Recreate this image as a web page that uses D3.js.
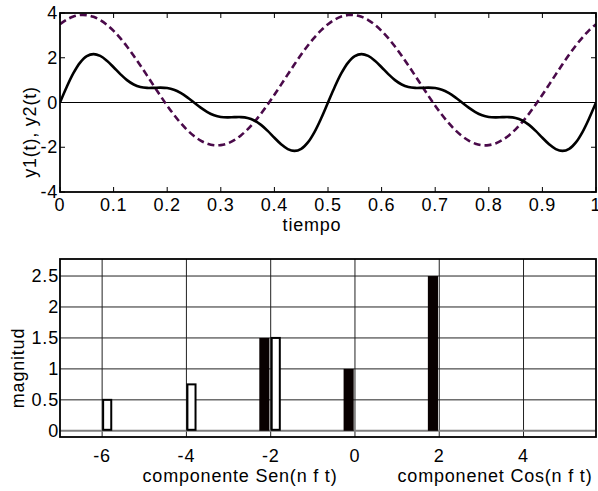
<!DOCTYPE html>
<html>
<head>
<meta charset="utf-8">
<script src="https://cdn.jsdelivr.net/npm/d3@7"></script>
<style>
  body { margin: 0; background: #fff; }
  svg { display: block; font-family: "Liberation Sans", Arial, sans-serif; }
  text { font-size: 18px; letter-spacing: 0.8px; fill: #000; }
</style>
</head>
<body>
<svg id="chart"></svg>
<script>
const width = 598, height = 491;

// top plot data: t, y1(t), y2(t)
const tiempo = [0, 0.0125, 0.025, 0.0375, 0.05, 0.0625, 0.075, 0.0875, 0.1, 0.1125,
  0.125, 0.1375, 0.15, 0.1625, 0.175, 0.1875, 0.2, 0.2125, 0.225, 0.2375,
  0.25, 0.2625, 0.275, 0.2875, 0.3, 0.3125, 0.325, 0.3375, 0.35, 0.3625,
  0.375, 0.3875, 0.4, 0.4125, 0.425, 0.4375, 0.45, 0.4625, 0.475, 0.4875,
  0.5, 0.5125, 0.525, 0.5375, 0.55, 0.5625, 0.575, 0.5875, 0.6, 0.6125,
  0.625, 0.6375, 0.65, 0.6625, 0.675, 0.6875, 0.7, 0.7125, 0.725, 0.7375,
  0.75, 0.7625, 0.775, 0.7875, 0.8, 0.8125, 0.825, 0.8375, 0.85, 0.8625,
  0.875, 0.8875, 0.9, 0.9125, 0.925, 0.9375, 0.95, 0.9625, 0.975, 0.9875, 1];

const y1 = [0, 0.693, 1.309, 1.782, 2.071, 2.164, 2.081, 1.865, 1.574, 1.268,
  1.000, 0.804, 0.692, 0.652, 0.655, 0.664, 0.644, 0.568, 0.427, 0.230,
  0, -0.230, -0.427, -0.568, -0.644, -0.664, -0.655, -0.652, -0.692, -0.804,
  -1.000, -1.268, -1.574, -1.865, -2.081, -2.164, -2.071, -1.782, -1.309, -0.693,
  0, 0.693, 1.309, 1.782, 2.071, 2.164, 2.081, 1.865, 1.574, 1.268,
  1.000, 0.804, 0.692, 0.652, 0.655, 0.664, 0.644, 0.568, 0.427, 0.230,
  0, -0.230, -0.427, -0.568, -0.644, -0.664, -0.655, -0.652, -0.692, -0.804,
  -1.000, -1.268, -1.574, -1.865, -2.081, -2.164, -2.071, -1.782, -1.309, -0.693, 0];

const y2 = [3.500, 3.704, 3.841, 3.909, 3.904, 3.829, 3.683, 3.472, 3.199, 2.873,
  2.500, 2.091, 1.654, 1.202, 0.744, 0.293, -0.141, -0.547, -0.914, -1.235,
  -1.500, -1.704, -1.841, -1.909, -1.904, -1.829, -1.683, -1.472, -1.199, -0.873,
  -0.500, -0.091, 0.346, 0.799, 1.256, 1.707, 2.141, 2.547, 2.914, 3.235,
  3.500, 3.704, 3.841, 3.909, 3.904, 3.829, 3.683, 3.472, 3.199, 2.873,
  2.500, 2.091, 1.654, 1.202, 0.744, 0.293, -0.141, -0.547, -0.914, -1.235,
  -1.500, -1.704, -1.841, -1.909, -1.904, -1.829, -1.683, -1.472, -1.199, -0.873,
  -0.500, -0.091, 0.346, 0.799, 1.256, 1.707, 2.141, 2.547, 2.914, 3.235, 3.500];

const topXTicks = [0, 0.1, 0.2, 0.3, 0.4, 0.5, 0.6, 0.7, 0.8, 0.9, 1];
const topYTicks = [-4, -2, 0, 2, 4];

// bottom plot data: spectrum
const senX = [-6, -4, -2];          // componente Sen
const senMag = [0.5, 0.75, 1.5];
const cosX = [-2, 0, 2];            // componente Cos
const cosMag = [1.5, 1, 2.5];
const botXTicks = [-6, -4, -2, 0, 2, 4];
const botYTicks = [0, 0.5, 1, 1.5, 2, 2.5];

const svg = d3.select("#chart")
    .attr("width", width)
    .attr("height", height);

const fmt = d => String(d);

// ---------- top plot ----------
const box1 = { left: 60, right: 596, top: 13, bottom: 192 };
const tx = d3.scaleLinear().domain([0, 1]).range([box1.left, box1.right]);
const ty = d3.scaleLinear().domain([-4, 4]).range([box1.bottom, box1.top]);

const g1 = svg.append("g");

g1.append("defs").append("clipPath").attr("id", "clip1")
    .append("rect")
    .attr("x", box1.left).attr("y", box1.top)
    .attr("width", box1.right - box1.left).attr("height", box1.bottom - box1.top);

// zero line
g1.append("line")
    .attr("x1", box1.left).attr("x2", box1.right)
    .attr("y1", ty(0)).attr("y2", ty(0))
    .attr("stroke", "#000").attr("stroke-width", 1);

const line = d3.line()
    .x((d, i) => tx(tiempo[i]))
    .y(d => ty(d))
    .curve(d3.curveCatmullRom);

const lines = g1.append("g").attr("clip-path", "url(#clip1)");

lines.append("path")
    .attr("d", line(y2))
    .attr("fill", "none")
    .attr("stroke", "#4a0a4a")
    .attr("stroke-width", 2.6)
    .attr("stroke-dasharray", "7,4");

lines.append("path")
    .attr("d", line(y1))
    .attr("fill", "none")
    .attr("stroke", "#000")
    .attr("stroke-width", 2.6);

// inner ticks
const tk = 5;
topXTicks.forEach(d => {
    g1.append("line").attr("x1", tx(d)).attr("x2", tx(d))
        .attr("y1", box1.bottom).attr("y2", box1.bottom - tk).attr("stroke", "#000");
    g1.append("line").attr("x1", tx(d)).attr("x2", tx(d))
        .attr("y1", box1.top).attr("y2", box1.top + tk).attr("stroke", "#000");
});
topYTicks.forEach(d => {
    g1.append("line").attr("x1", box1.left).attr("x2", box1.left + tk)
        .attr("y1", ty(d)).attr("y2", ty(d)).attr("stroke", "#000");
    g1.append("line").attr("x1", box1.right).attr("x2", box1.right - tk)
        .attr("y1", ty(d)).attr("y2", ty(d)).attr("stroke", "#000");
});

g1.append("rect")
    .attr("x", box1.left).attr("y", box1.top)
    .attr("width", box1.right - box1.left).attr("height", box1.bottom - box1.top)
    .attr("fill", "none").attr("stroke", "#000").attr("stroke-width", 1.8);

g1.selectAll(".xt").data(topXTicks).enter().append("text")
    .attr("x", d => tx(d)).attr("y", 211)
    .attr("text-anchor", "middle")
    .text(fmt);

g1.selectAll(".yt").data(topYTicks).enter().append("text")
    .attr("x", 58).attr("y", d => ty(d) + 6)
    .attr("text-anchor", "end")
    .text(fmt);

g1.append("text")
    .attr("x", 312).attr("y", 231)
    .attr("text-anchor", "middle")
    .text("tiempo");

g1.append("text")
    .attr("transform", "translate(36,132) rotate(-90)")
    .attr("text-anchor", "middle")
    .text("y1(t), y2(t)");

// ---------- bottom plot ----------
const box2 = { left: 60, right: 596, top: 259, bottom: 437 };
const bx = d3.scaleLinear().domain([-7, 5.72]).range([box2.left, box2.right]);
const by = d3.scaleLinear().domain([-0.1, 2.775]).range([box2.bottom, box2.top]);

const g2 = svg.append("g");

// grid
g2.selectAll(".gx").data(botXTicks).enter().append("line")
    .attr("x1", d => bx(d)).attr("x2", d => bx(d))
    .attr("y1", box2.top).attr("y2", box2.bottom)
    .attr("stroke", "#222").attr("stroke-width", 1);

g2.selectAll(".gy").data(botYTicks).enter().append("line")
    .attr("x1", box2.left).attr("x2", box2.right)
    .attr("y1", d => by(d)).attr("y2", d => by(d))
    .attr("stroke", d => d === 0 ? "#808080" : "#222")
    .attr("stroke-width", d => d === 0 ? 2 : 1);

// bars
const senOff = 0, cosOff = -0.27, barW = 0.24;

g2.selectAll(".cos").data(cosX).enter().append("rect")
    .attr("x", d => bx(d + cosOff))
    .attr("width", d => bx(d + cosOff + barW) - bx(d + cosOff))
    .attr("y", (d, i) => by(cosMag[i]))
    .attr("height", (d, i) => by(0) - by(cosMag[i]))
    .attr("fill", "#080000");

g2.selectAll(".sen").data(senX).enter().append("rect")
    .attr("x", d => bx(d + senOff) + 1)
    .attr("width", d => bx(d + senOff + barW) - bx(d + senOff) - 2)
    .attr("y", (d, i) => by(senMag[i]))
    .attr("height", (d, i) => by(0) - by(senMag[i]) - 1)
    .attr("fill", "#fff")
    .attr("stroke", "#000")
    .attr("stroke-width", 2);

g2.append("rect")
    .attr("x", box2.left).attr("y", box2.top)
    .attr("width", box2.right - box2.left).attr("height", box2.bottom - box2.top)
    .attr("fill", "none").attr("stroke", "#000").attr("stroke-width", 1.8);

g2.selectAll(".xt").data(botXTicks).enter().append("text")
    .attr("x", d => bx(d)).attr("y", 462)
    .attr("text-anchor", "middle")
    .text(fmt);

g2.selectAll(".yt").data(botYTicks).enter().append("text")
    .attr("x", 59).attr("y", d => by(d) + 6)
    .attr("text-anchor", "end")
    .text(fmt);

g2.append("text")
    .attr("x", 240).attr("y", 482)
    .attr("text-anchor", "middle")
    .text("componente Sen(n f t)");

g2.append("text")
    .attr("x", 495).attr("y", 482)
    .attr("text-anchor", "middle")
    .text("componenet Cos(n f t)");

g2.append("text")
    .attr("transform", "translate(24,368) rotate(-90)")
    .attr("text-anchor", "middle")
    .text("magnitud");
</script>
</body>
</html>
